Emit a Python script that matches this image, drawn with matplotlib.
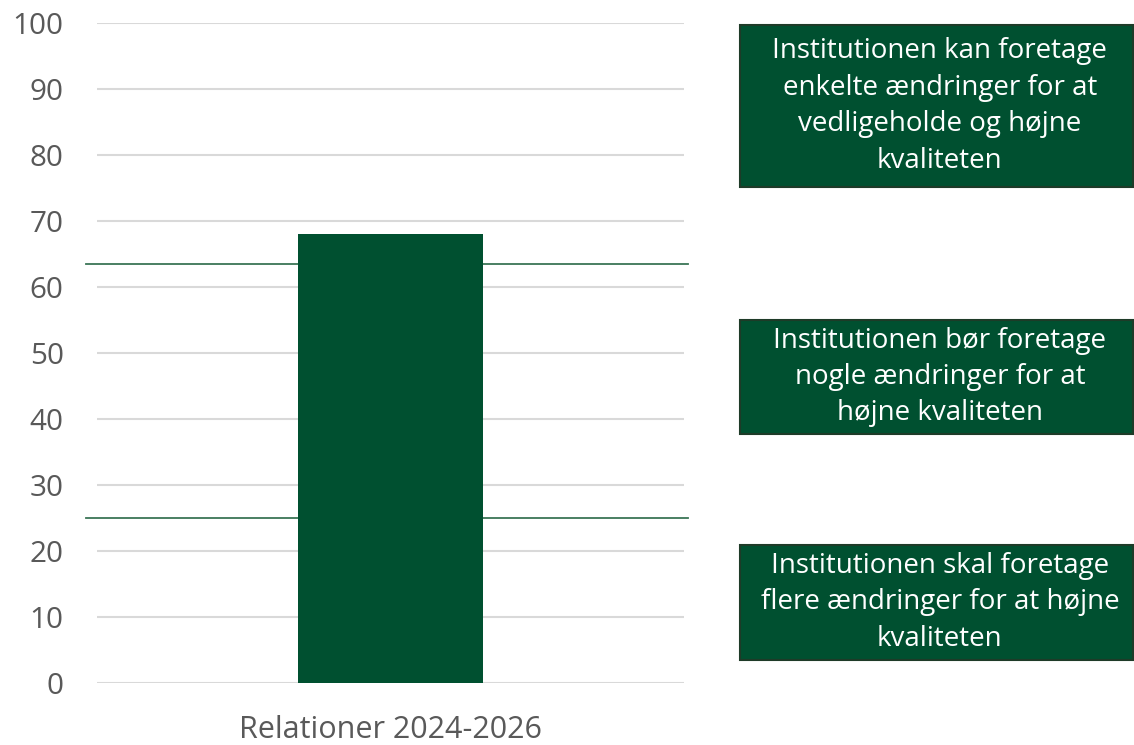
import matplotlib
matplotlib.use("Agg")
import matplotlib.pyplot as plt
from matplotlib.patches import Rectangle

categories = ["Relationer 2024-2026"]
values = [68]
thresholds = [63.5, 25]
box_texts = [
    "Institutionen kan foretage\nenkelte ændringer for at\nvedligeholde og højne\nkvaliteten",
    "Institutionen bør foretage\nnogle ændringer for at\nhøjne kvaliteten",
    "Institutionen skal foretage\nflere ændringer for at højne\nkvaliteten",
]
yticks = list(range(0, 101, 10))

plt.rcParams['font.family'] = ['Open Sans', 'DejaVu Sans']

W, H = 1134, 745
fig = plt.figure(figsize=(W / 100, H / 100), dpi=100)
ax = fig.add_axes([97 / W, 1 - 683 / H, (684 - 97) / W, (683 - 23) / H])

green = "#005030"
ax.bar(range(len(categories)), values, width=0.315, color=green, zorder=3)
ax.set_xlim(-0.5, 0.5)
ax.set_ylim(0, 100)
ax.set_yticks(yticks)
ax.set_xticks(range(len(categories)))
ax.set_xticklabels(categories)
ax.tick_params(axis='both', length=0, labelcolor="#595959")
ax.tick_params(axis='y', pad=24, labelsize=21.3)
ax.tick_params(axis='x', pad=23, labelsize=22)
ax.grid(axis='y', color="#d9d9d9", linewidth=1.5, zorder=0)
for s in ax.spines.values():
    s.set_visible(False)

tr = ax.get_yaxis_transform()
for t in thresholds:
    ax.plot([-0.019, 1.007], [t, t], transform=tr, color="#3a7556",
            linewidth=1.3, clip_on=False, zorder=2)

boxes = [(25, 187), (320, 434), (545, 660)]
for (y0, y1), txt in zip(boxes, box_texts):
    x0, x1 = 740, 1133
    r = Rectangle((x0 / W, 1 - y1 / H), (x1 - x0) / W, (y1 - y0) / H,
                  transform=fig.transFigure, facecolor=green,
                  edgecolor="#1e3b28", linewidth=1.5)
    fig.patches.append(r)
    fig.text((x0 + x1) / 2 / W + 0.003, 1 - (y0 + y1) / 2 / H, txt,
             ha='center', va='center', color='white', fontsize=20,
             linespacing=1.4)

fig.savefig("out.png", dpi=100)
